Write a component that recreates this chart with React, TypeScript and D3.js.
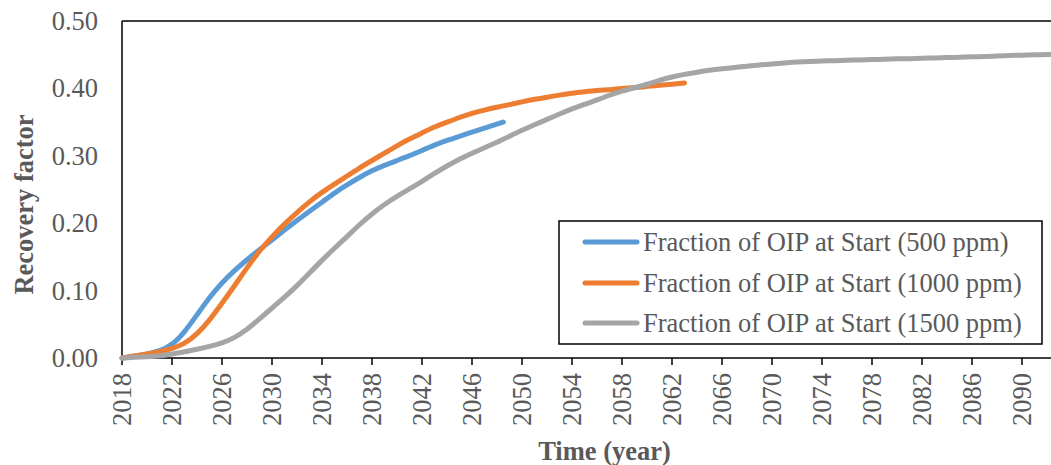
import React from "react";
import * as d3 from "d3";

const blueYears = [2018, 2019, 2020, 2021, 2022, 2023, 2024, 2025, 2026, 2027, 2028, 2029, 2030, 2031, 2032, 2033, 2034, 2035, 2036, 2037, 2038, 2039, 2040, 2041, 2042, 2043, 2044, 2045, 2046, 2047, 2048, 2048.5];
const blueValues = [0.000, 0.003, 0.006, 0.010, 0.019, 0.038, 0.064, 0.090, 0.112, 0.130, 0.146, 0.161, 0.175, 0.190, 0.204, 0.218, 0.231, 0.245, 0.257, 0.268, 0.278, 0.286, 0.293, 0.300, 0.308, 0.316, 0.323, 0.329, 0.335, 0.341, 0.347, 0.350];

const orangeYears = [2018, 2019, 2020, 2021, 2022, 2023, 2024, 2025, 2026, 2027, 2028, 2029, 2030, 2031, 2032, 2033, 2034, 2035, 2036, 2037, 2038, 2039, 2040, 2041, 2042, 2043, 2044, 2045, 2046, 2047, 2048, 2049, 2050, 2051, 2052, 2053, 2054, 2055, 2056, 2057, 2058, 2059, 2060, 2061, 2062, 2063];
const orangeValues = [0.000, 0.003, 0.006, 0.009, 0.014, 0.021, 0.035, 0.056, 0.081, 0.107, 0.134, 0.159, 0.180, 0.199, 0.216, 0.232, 0.246, 0.258, 0.270, 0.282, 0.293, 0.304, 0.315, 0.325, 0.334, 0.343, 0.350, 0.357, 0.363, 0.368, 0.372, 0.376, 0.380, 0.384, 0.387, 0.390, 0.393, 0.395, 0.397, 0.398, 0.400, 0.401, 0.403, 0.405, 0.406, 0.408];

const greyYears = [2018, 2019, 2020, 2021, 2022, 2023, 2024, 2025, 2026, 2027, 2028, 2029, 2030, 2031, 2032, 2033, 2034, 2035, 2036, 2037, 2038, 2039, 2040, 2041, 2042, 2043, 2044, 2045, 2046, 2047, 2048, 2049, 2050, 2051, 2052, 2053, 2054, 2055, 2056, 2057, 2058, 2059, 2060, 2061, 2062, 2063, 2064, 2065, 2066, 2067, 2068, 2069, 2070, 2071, 2072, 2073, 2074, 2075, 2076, 2077, 2078, 2079, 2080, 2081, 2082, 2083, 2084, 2085, 2086, 2087, 2088, 2089, 2090, 2091, 2092, 2093];
const greyValues = [0.000, 0.001, 0.002, 0.003, 0.006, 0.009, 0.013, 0.017, 0.022, 0.030, 0.042, 0.058, 0.074, 0.090, 0.107, 0.126, 0.145, 0.163, 0.180, 0.198, 0.214, 0.228, 0.240, 0.251, 0.262, 0.274, 0.285, 0.295, 0.304, 0.312, 0.320, 0.329, 0.338, 0.346, 0.354, 0.362, 0.370, 0.376, 0.383, 0.390, 0.396, 0.401, 0.406, 0.412, 0.417, 0.421, 0.424, 0.427, 0.429, 0.431, 0.433, 0.435, 0.436, 0.438, 0.439, 0.440, 0.441, 0.441, 0.442, 0.442, 0.443, 0.443, 0.444, 0.444, 0.445, 0.445, 0.446, 0.446, 0.447, 0.447, 0.448, 0.449, 0.449, 0.450, 0.450, 0.451];

const seriesNames = [
  "Fraction of OIP at Start (500 ppm)",
  "Fraction of OIP at Start (1000 ppm)",
  "Fraction of OIP at Start (1500 ppm)",
];
const seriesColors = ["#5B9BD5", "#ED7D31", "#A5A5A5"];

const xTicks = [2018, 2022, 2026, 2030, 2034, 2038, 2042, 2046, 2050, 2054, 2058, 2062, 2066, 2070, 2074, 2078, 2082, 2086, 2090];
const yTicks = [0, 0.1, 0.2, 0.3, 0.4, 0.5];

const W = 1051;
const H = 465;
const FONT = "'Liberation Serif', 'Times New Roman', serif";
const TEXT = "#595959";
const FS = 26.5;

export default function App() {
  const left = 122;
  const top = 21;
  const bottom = 358;
  const x = d3.scaleLinear().domain([2018, 2093]).range([left, left + 75 * 12.5]);
  const y = d3.scaleLinear().domain([0, 0.5]).range([bottom, top]);

  const series = [
    { years: blueYears, values: blueValues },
    { years: orangeYears, values: orangeValues },
    { years: greyYears, values: greyValues },
  ];

  const line = d3
    .line<[number, number]>()
    .x((d) => x(d[0]))
    .y((d) => y(d[1]))
    .curve(d3.curveBasis);

  const legendRows = [242, 283, 323];

  return (
    <svg
      width={W}
      height={H}
      style={{ position: "absolute", left: 0, top: 0, background: "#fff" }}
      fontFamily={FONT}
    >
      <rect x={0} y={0} width={W} height={H} fill="#fff" />
      <line x1={left} x2={W + 5} y1={top} y2={top} stroke="#000" strokeWidth={1.5} />
      <line x1={left} x2={left} y1={top} y2={bottom} stroke="#000" strokeWidth={1.5} />
      <line x1={left} x2={W + 5} y1={bottom} y2={bottom} stroke="#000" strokeWidth={1.5} />

      {xTicks.map((t) => (
        <g key={t}>
          <line x1={x(t)} x2={x(t)} y1={bottom} y2={bottom + 7} stroke="#000" strokeWidth={1.5} />
          <text
            transform={`translate(${x(t)},${373}) rotate(-90)`}
            textAnchor="end"
            dy="0.34em"
            fontSize={FS}
            fill={TEXT}
          >
            {t}
          </text>
        </g>
      ))}

      {yTicks.map((t) => (
        <text key={t} x={98} y={y(t)} dy="0.34em" textAnchor="end" fontSize={FS} fill={TEXT}>
          {t.toFixed(2)}
        </text>
      ))}

      {series.map((s, i) => (
        <path
          key={i}
          d={line(s.years.map((yr, j) => [yr, s.values[j]]) as [number, number][]) || ""}
          fill="none"
          stroke={seriesColors[i]}
          strokeWidth={5}
          strokeLinecap="round"
          strokeLinejoin="round"
        />
      ))}

      <rect x={559} y={221} width={483} height={123} fill="#fff" stroke="#000" strokeWidth={1.5} />
      {seriesNames.map((n, i) => (
        <g key={n}>
          <line
            x1={585}
            x2={637}
            y1={legendRows[i]}
            y2={legendRows[i]}
            stroke={seriesColors[i]}
            strokeWidth={5}
            strokeLinecap="round"
          />
          <text x={643} y={legendRows[i]} dy="0.34em" fontSize={FS} fill={TEXT}>
            {n}
          </text>
        </g>
      ))}

      <text x={604.5} y={460} textAnchor="middle" fontSize={FS} fontWeight="bold" fill={TEXT}>
        Time (year)
      </text>
      <text
        transform={`translate(33,204.5) rotate(-90)`}
        textAnchor="middle"
        fontSize={FS}
        fontWeight="bold"
        fill={TEXT}
      >
        Recovery factor
      </text>
    </svg>
  );
}
